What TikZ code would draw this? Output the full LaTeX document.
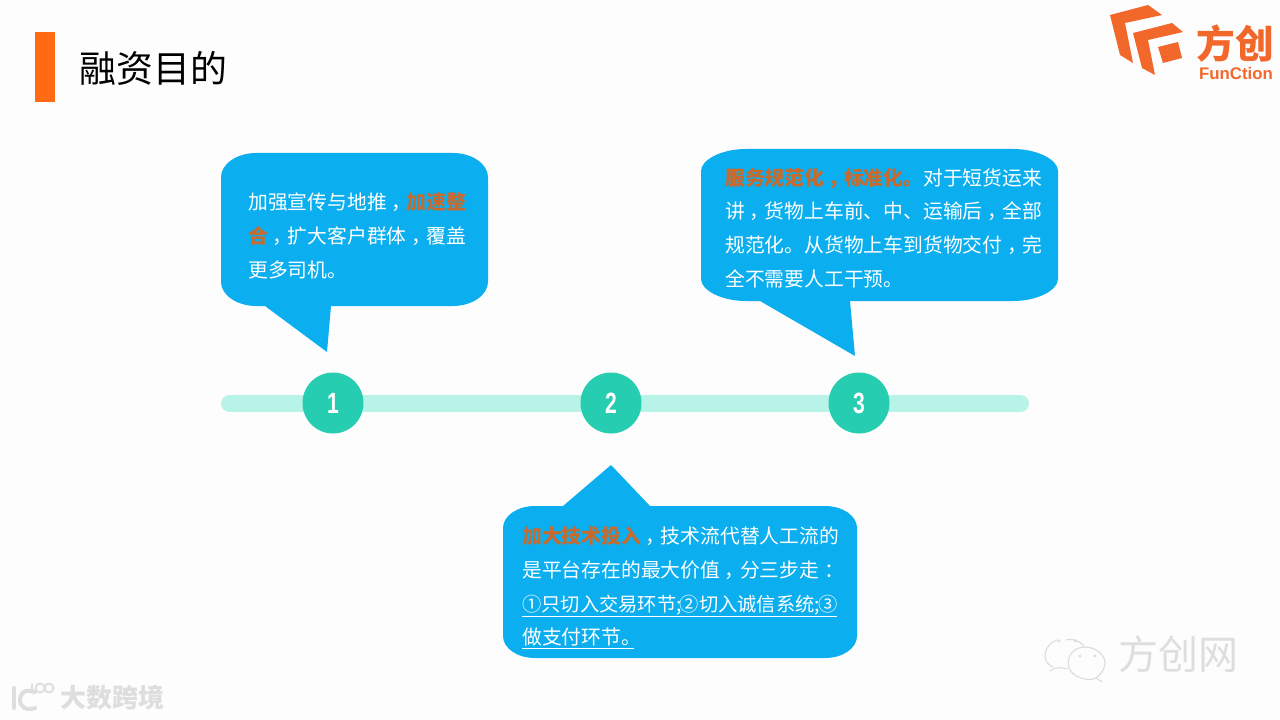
\documentclass[tikz,border=0pt]{standalone}
\usepackage{fontspec}
\setmainfont{Noto Sans CJK SC}
\newfontfamily\numfont{Liberation Sans}
\definecolor{bubblec}{HTML}{0BAEEE}
\definecolor{accent}{HTML}{C96A2C}
\definecolor{brand}{HTML}{F2672A}
\definecolor{barc}{HTML}{B7F3E6}
\definecolor{dotc}{HTML}{27CDB1}
\definecolor{markc}{HTML}{DEDEDE}
\definecolor{paper}{HTML}{FDFDFE}
\definecolor{titlebar}{HTML}{FF6A13}
\newcommand{\hl}[1]{\textcolor{accent}{\bfseries #1}}
\newcommand{\mc}{\kern3.5pt，\kern-3.5pt}
\newcommand{\mk}{\kern4pt：\kern-4pt}
\newcommand{\digit}[1]{\scalebox{0.72}[1]{#1}}
\tikzset{
  x=0.75pt,y=-0.75pt,
  bubble/.style={fill=bubblec,draw=none},
  bubbletext/.style={anchor=west,inner sep=0pt,align=left,text=white,font=\fontsize{14.85}{25.3}\selectfont},
  stepdot/.style={circle,fill=dotc,draw=none,minimum size=45.75pt,inner sep=0pt,text=white,font=\numfont\bfseries\fontsize{22}{22}\selectfont},
  track/.style={line width=12.75pt,barc,line cap=round},
  logoshape/.style={fill=brand,draw=none},
  wm/.style={draw=markc,line width=0.9pt,fill=none,line cap=round},
}
\begin{document}
\begin{tikzpicture}
\useasboundingbox (0,0) rectangle (1280,720);
\fill[paper] (0,0) rectangle (1280,720);
% title
\fill[titlebar] (35,32) rectangle (55,102);
\node[anchor=west,inner sep=0pt,font=\fontsize{27.7}{30}\selectfont,text=black] (title) at (79,68) {融资目的};
% timeline
\coordinate (trackL) at (229.5,403.5);
\coordinate (trackR) at (1020.5,403.5);
\draw[track] (trackL) -- (trackR);
\node[stepdot] (s1) at (333,403) {\digit{1}};
\node[stepdot] (s2) at (611,403) {\digit{2}};
\node[stepdot] (s3) at (859,403) {\digit{3}};
% bubble 1
\fill[bubble] (256,153) -- (453,153) .. controls (472,153) and (488,164) .. (488,177)
  -- (488,282) .. controls (488,295) and (472,306) .. (453,306)
  -- (331,306) -- (327,352) -- (265,306) -- (256,306)
  .. controls (237,306) and (221,295) .. (221,282)
  -- (221,177) .. controls (221,164) and (237,153) .. (256,153) -- cycle;
\node[bubbletext] (t1) at (248,236) {加强宣传与地推\mc\hl{加速整}\\\hl{合}\mc 扩大客户群体\mc 覆盖\\更多司机。};
% bubble 3
\fill[bubble] (746,149) -- (1013,149) .. controls (1038,149) and (1058,160) .. (1058,171)
  -- (1058,279) .. controls (1058,290) and (1038,301) .. (1013,301)
  -- (850,301) -- (855,356) -- (760,301) -- (746,301)
  .. controls (721,301) and (701,290) .. (701,279)
  -- (701,171) .. controls (701,160) and (721,149) .. (746,149) -- cycle;
\node[bubbletext] (t3) at (725,228) {\hl{服务规范化\mc 标准化。}对于短货运来\\讲\mc 货物上车前、中、运输后\mc 全部\\规范化。从货物上车到货物交付\mc 完\\全不需要人工干预。};
% bubble 2
\fill[bubble] (535,506) -- (563,506) -- (611,465) -- (650,506) -- (825,506)
  .. controls (843,506) and (857,516) .. (857,528)
  -- (857,636) .. controls (857,648) and (843,658) .. (825,658)
  -- (535,658) .. controls (517,658) and (503,648) .. (503,636)
  -- (503,528) .. controls (503,516) and (517,506) .. (535,506) -- cycle;
\node[bubbletext] (t2) at (522,588) {\hl{加大技术投入}\mc 技术流代替人工流的\\是平台存在的最大价值\mc 分三步走\mk\\{\fontsize{14.45}{25.3}\selectfont\underline{①只切入交易环节;\kern-1.5pt②切入诚信系统;\kern-1.5pt③}}\\\underline{做支付环节。\kern-5pt}};
% brand logo
\fill[logoshape] (1110,15) -- (1148,5) -- (1162,15) -- (1125,23) -- (1133,63) -- (1120,55) -- cycle;
\fill[logoshape] (1133,33) -- (1172,23) -- (1183,32) -- (1148,40) -- (1155,75) -- (1142,68) -- cycle;
\fill[logoshape] (1158,47) -- (1178,42) -- (1182,58) -- (1163,63) -- cycle;
\node[inner sep=0pt,text=brand,font=\bfseries\fontsize{29}{32}\selectfont] (logoname) at (1235,44) {方创};
\node[inner sep=0pt,text=brand,font=\numfont\bfseries\fontsize{12.6}{14}\selectfont] (logosub) at (1236,73) {FunCtion};
% wechat watermark
\draw[wm] (1057,640) .. controls (1044,644) and (1040,662) .. (1053,667);
\draw[wm] (1050,671) .. controls (1055,667) and (1060,667) .. (1067,669);
\draw[wm] (1066,640) .. controls (1072,638) and (1078,640) .. (1084,646);
\draw[wm] (1085,647) .. controls (1073,647) and (1066,657) .. (1069,668) .. controls (1072,677) and (1088,682) .. (1096,678) -- (1102,682);
\draw[wm] (1085,647) .. controls (1095,647) and (1106,655) .. (1105,664) .. controls (1104,670) and (1101,674) .. (1096,678);
\foreach \p in {(1059,641),(1075,641),(1080,656),(1095,656)} \fill[markc] \p circle (1.7);
\node[inner sep=0pt,text=markc,font=\fontsize{30}{32}\selectfont] (wmname) at (1178,654) {方创网};
% bottom-left watermark
\draw[wm,line width=3pt] (14,688) -- (14,708);
\draw[wm,line width=3pt] (35,692) .. controls (24,688) and (20,694) .. (20,700) .. controls (20,707) and (26,711) .. (35,708);
\draw[wm,line width=1.4pt] (32,684) -- (32,693);
\draw[wm,line width=1.4pt] (40,688) circle (4.5);
\draw[wm,line width=1.4pt] (49,688) circle (4.5);
\node[inner sep=0pt,text=markc,font=\bfseries\fontsize{19.5}{21}\selectfont] (wmleft) at (112,698) {大数跨境};
\end{tikzpicture}
\end{document}
